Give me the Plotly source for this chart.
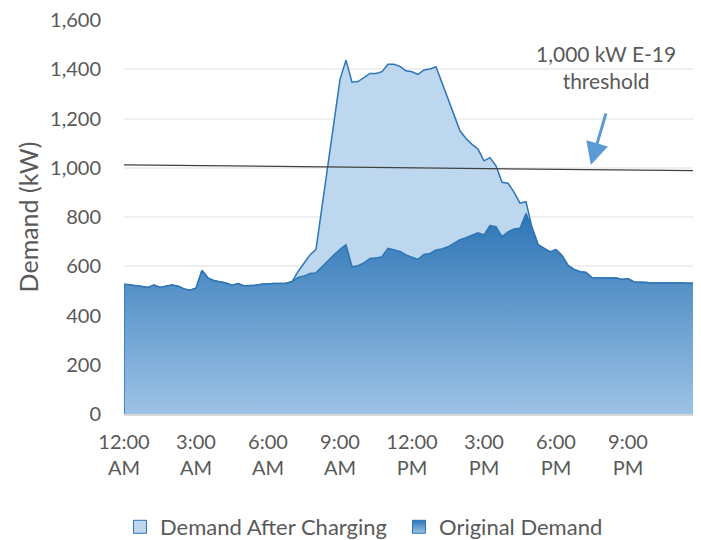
import plotly.graph_objects as go

# 15-minute demand intervals over one day (slot 0 = 12:00 AM)
slots = list(range(96))

original_demand = [
    527, 525, 520, 518, 514, 524, 514, 518, 524, 519, 508, 503,
    511, 583, 552, 541, 536, 532, 522, 530, 520, 521, 523, 527,
    529, 530, 530, 531, 537, 555, 560, 571, 573, 598, 625, 647,
    669, 687, 598, 602, 614, 632, 633, 639, 673, 666, 660, 646,
    636, 628, 648, 652, 666, 670, 679, 692, 708, 716, 727, 736,
    727, 765, 761, 720, 740, 751, 754, 814, 757, 688, 672, 658,
    668, 644, 604, 587, 578, 575, 553, 552, 551, 550, 552, 546,
    549, 536, 536, 534, 532, 532, 535, 534, 533, 532, 531, 531,
]

demand_after_charging = [
    527, 525, 520, 518, 514, 524, 514, 518, 524, 519, 508, 503,
    511, 583, 552, 541, 536, 532, 522, 530, 520, 521, 523, 527,
    529, 530, 530, 531, 537, 578, 612, 646, 669, 841, 1014, 1186,
    1359, 1437, 1347, 1350, 1367, 1383, 1383, 1390, 1420, 1420, 1412, 1394,
    1390, 1379, 1397, 1401, 1410, 1345, 1280, 1213, 1150, 1119, 1095, 1076,
    1028, 1041, 1008, 941, 937, 901, 856, 862, 757, 688, 672, 658,
    668, 644, 604, 587, 578, 575, 553, 552, 551, 550, 552, 546,
    549, 536, 536, 534, 532, 532, 535, 534, 533, 532, 531, 531,
]

tick_slots = [0, 12, 24, 36, 48, 60, 72, 84]
tick_labels = ["12:00<br>AM", "3:00<br>AM", "6:00<br>AM", "9:00<br>AM",
               "12:00<br>PM", "3:00<br>PM", "6:00<br>PM", "9:00<br>PM"]

threshold_kw = [1012, 988]          # drawn threshold line, left and right ends
threshold_label = "1,000 kW E-19<br>threshold"

FONT = "Lato"
GREY = "#595959"
LINE_BLUE = "#2E75B6"
LIGHT_FILL = "#BDD7EE"
DARK_TOP = "#2E75B6"
DARK_BOTTOM = "#9DC3E6"

fig = go.Figure()

fig.add_trace(go.Scatter(
    x=slots, y=demand_after_charging, mode="lines", fill="tozeroy",
    fillcolor=LIGHT_FILL, line=dict(color=LINE_BLUE, width=1.5),
    name="Demand After Charging", showlegend=False, hoverinfo="x+y",
))
fig.add_trace(go.Scatter(
    x=slots, y=original_demand, mode="lines", fill="tozeroy",
    fillgradient=dict(type="vertical", start=0, stop=max(original_demand),
                      colorscale=[[0, DARK_BOTTOM], [1, DARK_TOP]]),
    line=dict(color=LINE_BLUE, width=1.5),
    name="Original Demand", showlegend=False, hoverinfo="x+y",
))

# legend swatches
fig.add_trace(go.Scatter(
    x=[None], y=[None], mode="markers", name="Demand After Charging",
    marker=dict(symbol="square", size=13, color=LIGHT_FILL,
                line=dict(color=LINE_BLUE, width=1)),
))
fig.add_trace(go.Scatter(
    x=[None], y=[None], mode="markers", name="Original Demand",
    marker=dict(symbol="square", size=13, color=DARK_TOP,
                gradient=dict(type="vertical", color=DARK_BOTTOM),
                line=dict(color=LINE_BLUE, width=1)),
))

# area outline edges at both ends of the day
for s, v in ((slots[0], original_demand[0]), (slots[-1], original_demand[-1])):
    fig.add_shape(type="line", xref="x", yref="y", x0=s, x1=s, y0=0, y1=v,
                  line=dict(color=LINE_BLUE, width=1.5))

fig.add_shape(type="line", xref="x", yref="y",
              x0=slots[0], x1=slots[-1], y0=threshold_kw[0], y1=threshold_kw[1],
              line=dict(color="#404040", width=1.2), layer="above")

fig.add_annotation(x=80.4, y=1411, xref="x", yref="y", text=threshold_label,
                   showarrow=False, font=dict(family=FONT, size=21, color=GREY))
fig.add_annotation(x=77.8, y=1011, ax=80.4, ay=1227, xref="x", yref="y",
                   axref="x", ayref="y", text="", showarrow=True,
                   arrowhead=2, arrowsize=1.5, arrowwidth=3,
                   arrowcolor="#5B9BD5")

fig.update_layout(
    width=693, height=540, autosize=False,
    margin=dict(l=116, r=7, t=12, b=134),
    paper_bgcolor="white", plot_bgcolor="white",
    font=dict(family=FONT, size=20, color=GREY),
    showlegend=True,
    legend=dict(orientation="h", xref="container", x=0.1616, xanchor="left",
                yref="container", y=0.0389, yanchor="middle",
                font=dict(family=FONT, size=22, color=GREY),
                entrywidth=234, entrywidthmode="pixels", itemclick=False),
    xaxis=dict(range=[slots[0], slots[-1]], automargin=False,
               tickmode="array", tickvals=tick_slots, ticktext=tick_labels,
               tickangle=0, ticklabeloverflow="allow",
               showgrid=False, zeroline=False, showline=True,
               linecolor="#D9D9D9", linewidth=2, ticks="",
               ticklabelstandoff=9,
               tickfont=dict(family=FONT, size=20, color=GREY)),
    yaxis=dict(range=[0, 1600], dtick=200, tickformat=",", automargin=False,
               showgrid=True, gridcolor="#EFEFEF", gridwidth=1.5,
               zeroline=False, showline=False, ticks="",
               ticklabelstandoff=22, ticklabeloverflow="allow",
               tickfont=dict(family=FONT, size=20, color=GREY),
               title=dict(text="Demand (kW)", standoff=4,
                          font=dict(family=FONT, size=25, color=GREY))),
)

fig.write_html("out.html", config={"responsive": False})
